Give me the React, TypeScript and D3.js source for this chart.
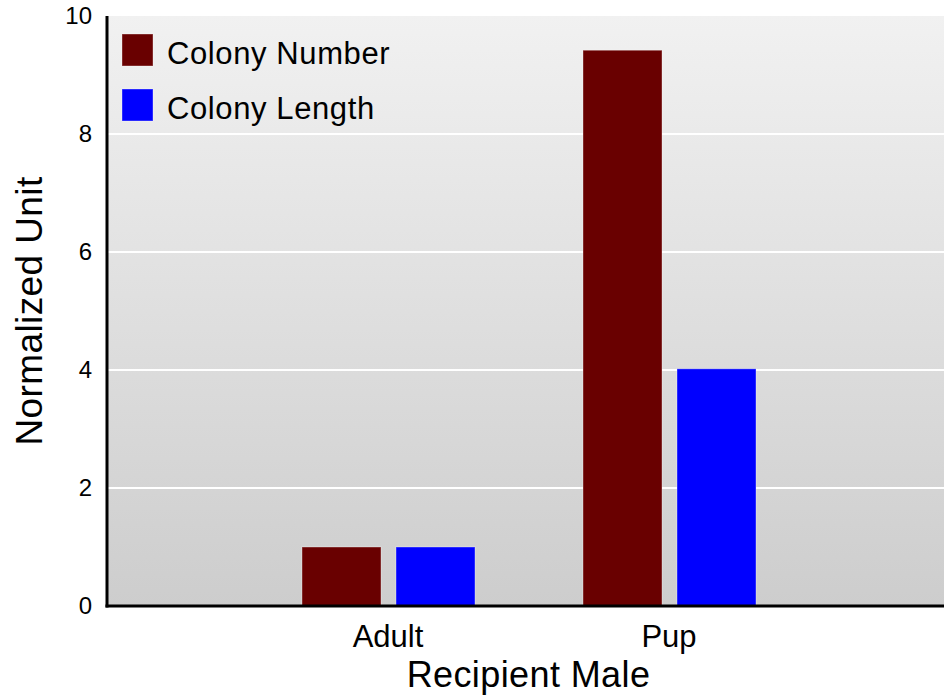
import { useEffect, useRef } from "react";
import * as d3 from "d3";

// data
const categories = ["Adult", "Pup"];
const colonyNumber = [1.0, 9.42];
const colonyLength = [1.0, 4.02];
const seriesNames = ["Colony Number", "Colony Length"];
const seriesColors = ["#690000", "#0000ff"];
const yTicks = [0, 2, 4, 6, 8, 10];

export default function App() {
    const svgRef = useRef<SVGSVGElement>(null);

    useEffect(() => {
        if (!svgRef.current) return;

        const W = 944;
        const H = 700;
        const left = 107;
        const top = 16;
        const bottom = 606;
        const right = 944;
        const font = "'Liberation Sans', Arial, Helvetica, sans-serif";

        const root = d3.select(svgRef.current);
        root.selectAll("*").remove();
        root.attr("width", W).attr("height", H);

        // gradient background
        const defs = root.append("defs");
        const grad = defs
            .append("linearGradient")
            .attr("id", "bg")
            .attr("x1", 0)
            .attr("y1", 0)
            .attr("x2", 0)
            .attr("y2", 1);
        grad.append("stop").attr("offset", "0%").attr("stop-color", "#f1f1f1");
        grad.append("stop").attr("offset", "100%").attr("stop-color", "#cdcdcd");

        root
            .append("rect")
            .attr("x", left)
            .attr("y", top)
            .attr("width", right - left)
            .attr("height", bottom - top)
            .attr("fill", "url(#bg)");

        // scales: one empty slot before the groups, one after
        const x = d3
            .scalePoint<string>()
            .domain(["_a", ...categories, "_b"])
            .range([left, left + 3 * 281]);

        const y = d3.scaleLinear().domain([0, 10]).range([bottom, top]);

        // gridlines
        root
            .append("g")
            .selectAll("line")
            .data(yTicks.filter((t) => t > 0 && t < 10))
            .join("line")
            .attr("x1", left)
            .attr("x2", right)
            .attr("y1", (d) => y(d))
            .attr("y2", (d) => y(d))
            .attr("stroke", "#ffffff")
            .attr("stroke-width", 2);

        // bars
        const barW = 79;
        const series = [colonyNumber, colonyLength];
        const offsets = [-86, 8];
        series.forEach((vals, si) => {
            root
                .append("g")
                .selectAll("rect")
                .data(vals)
                .join("rect")
                .attr("x", (_, i) => (x(categories[i]) as number) + offsets[si])
                .attr("y", (d) => y(d))
                .attr("width", barW)
                .attr("height", (d) => bottom - y(d))
                .attr("fill", seriesColors[si])
                .attr("stroke", "rgba(255,255,255,0.35)")
                .attr("stroke-width", 1);
        });

        // axis lines
        root
            .append("line")
            .attr("x1", left)
            .attr("x2", left)
            .attr("y1", top)
            .attr("y2", bottom + 1.5)
            .attr("stroke", "#000")
            .attr("stroke-width", 3);
        root
            .append("line")
            .attr("x1", left - 1.5)
            .attr("x2", right)
            .attr("y1", bottom)
            .attr("y2", bottom)
            .attr("stroke", "#000")
            .attr("stroke-width", 3);

        // y tick labels
        root
            .append("g")
            .selectAll("text")
            .data(yTicks)
            .join("text")
            .attr("x", 92)
            .attr("y", (d) => y(d) + 8)
            .attr("text-anchor", "end")
            .attr("font-family", font)
            .attr("font-size", 24)
            .attr("fill", "#000")
            .text((d) => d);

        // x tick labels
        root
            .append("g")
            .selectAll("text")
            .data(categories)
            .join("text")
            .attr("x", (d) => x(d) as number)
            .attr("y", 647)
            .attr("text-anchor", "middle")
            .attr("font-family", font)
            .attr("font-size", 31)
            .attr("fill", "#000")
            .text((d) => d);

        // axis titles
        root
            .append("text")
            .attr("x", (left + right) / 2 + 3)
            .attr("y", 687)
            .attr("text-anchor", "middle")
            .attr("font-family", font)
            .attr("font-size", 36)
            .attr("letter-spacing", 0.4)
            .text("Recipient Male");

        root
            .append("text")
            .attr("transform", `translate(42,${(top + bottom) / 2}) rotate(-90)`)
            .attr("text-anchor", "middle")
            .attr("font-family", font)
            .attr("font-size", 37)
            .attr("letter-spacing", 0.4)
            .text("Normalized Unit");

        // legend
        const legend = root
            .append("g")
            .selectAll("g")
            .data(seriesNames)
            .join("g")
            .attr("transform", (_, i) => `translate(122,${34 + i * 55})`);
        legend
            .append("rect")
            .attr("width", 31)
            .attr("height", 32)
            .attr("fill", (_, i) => seriesColors[i])
            .attr("stroke", "rgba(255,255,255,0.35)");
        legend
            .append("text")
            .attr("x", 45)
            .attr("y", 30)
            .attr("font-family", font)
            .attr("font-size", 31)
            .attr("letter-spacing", 0.6)
            .text((d) => d);
    }, []);

    return (
        <svg
            ref={svgRef}
            style={{ position: "absolute", left: 0, top: 0, display: "block", background: "#fff" }}
        />
    );
}
